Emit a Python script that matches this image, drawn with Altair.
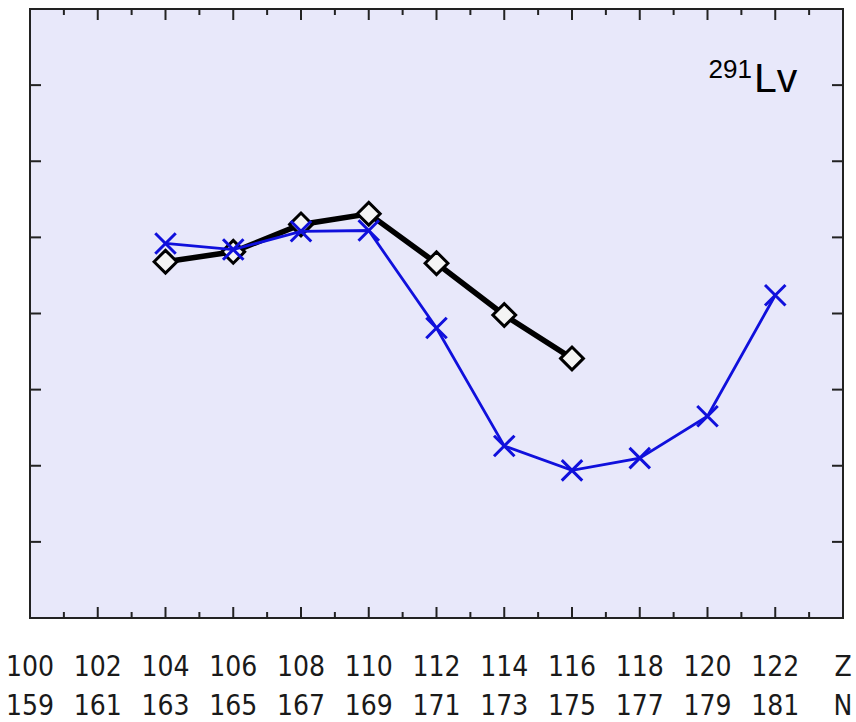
import altair as alt
import pandas as pd

# ---- data ----
z_black = [104, 106, 108, 110, 112, 114, 116]
v_black = [4.68, 4.81, 5.17, 5.31, 4.66, 3.98, 3.41]

z_blue = [104, 106, 108, 110, 112, 114, 116, 118, 120, 122]
v_blue = [4.92, 4.84, 5.08, 5.09, 3.81, 2.26, 1.94, 2.10, 2.65, 4.24]

z_positions = [100, 102, 104, 106, 108, 110, 112, 114, 116, 118, 120, 122, 124]
z_row = ["100", "102", "104", "106", "108", "110", "112", "114", "116", "118", "120", "122", "Z"]
n_row = ["159", "161", "163", "165", "167", "169", "171", "173", "175", "177", "179", "181", "N"]
major_ticks = [102, 104, 106, 108, 110, 112, 114, 116, 118, 120, 122]
minor_ticks = [101, 103, 105, 107, 109, 111, 113, 115, 117, 119, 121, 123]
y_ticks = [1, 2, 3, 4, 5, 6, 7]

W, H = 813, 609
xs = alt.Scale(domain=[100, 124], nice=False, zero=False)
ys = alt.Scale(domain=[0, 8], nice=False, zero=False)

black_df = pd.DataFrame({"z": z_black, "v": v_black})
blue_df = pd.DataFrame({"z": z_blue, "v": v_blue})
lab_df = pd.DataFrame({"z": z_positions, "zl": z_row, "nl": n_row})

X = lambda f: alt.X(f, scale=xs, axis=None)
Y = lambda f: alt.Y(f, scale=ys, axis=None)

BLUE = "#1010dc"

black_line = alt.Chart(black_df).mark_line(color="black", strokeWidth=5.5).encode(
    x=X("z:Q"), y=Y("v:Q")
)
black_pts = alt.Chart(black_df).mark_point(
    shape="diamond", size=520, filled=True, fill="#f4f4f4", stroke="black",
    strokeWidth=3, opacity=1,
).encode(x=X("z:Q"), y=Y("v:Q"))

blue_line = alt.Chart(blue_df).mark_line(color=BLUE, strokeWidth=2.8).encode(
    x=X("z:Q"), y=Y("v:Q")
)
blue_pts = alt.Chart(blue_df).mark_point(
    shape="M-1,-1L1,1M-1,1L1,-1", size=420, filled=False, color=BLUE,
    strokeWidth=3, opacity=1,
).encode(x=X("z:Q"), y=Y("v:Q"))

tick_color = "#222222"
maj_df = pd.DataFrame({"t": major_ticks})
min_df = pd.DataFrame({"t": minor_ticks})
y_df = pd.DataFrame({"v": y_ticks})

def xtick(df, y0, y1):
    return alt.Chart(df).mark_rule(color=tick_color, strokeWidth=2).encode(
        x=X("t:Q"), y=alt.value(y0), y2=alt.value(y1)
    )

def ytick(x0, x1):
    return alt.Chart(y_df).mark_rule(color=tick_color, strokeWidth=2).encode(
        y=Y("v:Q"), x=alt.value(x0), x2=alt.value(x1)
    )

ticks = [
    xtick(maj_df, H, H - 11), xtick(maj_df, 0, 11),
    xtick(min_df, H, H - 6), xtick(min_df, 0, 6),
    ytick(0, 11), ytick(W - 11, W),
]

lab_font = "DejaVu Sans Condensed, sans-serif"
row1 = alt.Chart(lab_df).mark_text(
    font=lab_font, fontSize=28, align="center", baseline="middle", color="#1a1a1a"
).encode(x=X("z:Q"), y=alt.value(659), text="zl:N")
row2 = alt.Chart(lab_df).mark_text(
    font=lab_font, fontSize=28, align="center", baseline="middle", color="#1a1a1a"
).encode(x=X("z:Q"), y=alt.value(698), text="nl:N")

sup = alt.Chart(pd.DataFrame({"s": ["291"]})).mark_text(
    font="Liberation Sans, Arial, sans-serif", fontSize=26, align="right",
    baseline="alphabetic", color="black",
).encode(text="s:N", x=alt.value(722), y=alt.value(69))
lv = alt.Chart(pd.DataFrame({"s": ["Lv"]})).mark_text(
    font="Liberation Sans, Arial, sans-serif", fontSize=41, align="left",
    baseline="alphabetic", color="black",
).encode(text="s:N", x=alt.value(724), y=alt.value(83))

chart = alt.layer(
    black_line, *ticks, black_pts, blue_line, blue_pts, row1, row2, sup, lv
).properties(
    width=W, height=H,
    padding={"left": 30, "top": 9, "right": 13, "bottom": 104},
    autosize=alt.AutoSizeParams(type="none"),
    background="white",
).configure_view(fill="#e8e8fa", stroke="#222222", strokeWidth=2, clip=False)

chart.save("out.html", embed_options={"renderer": "svg", "actions": False})
